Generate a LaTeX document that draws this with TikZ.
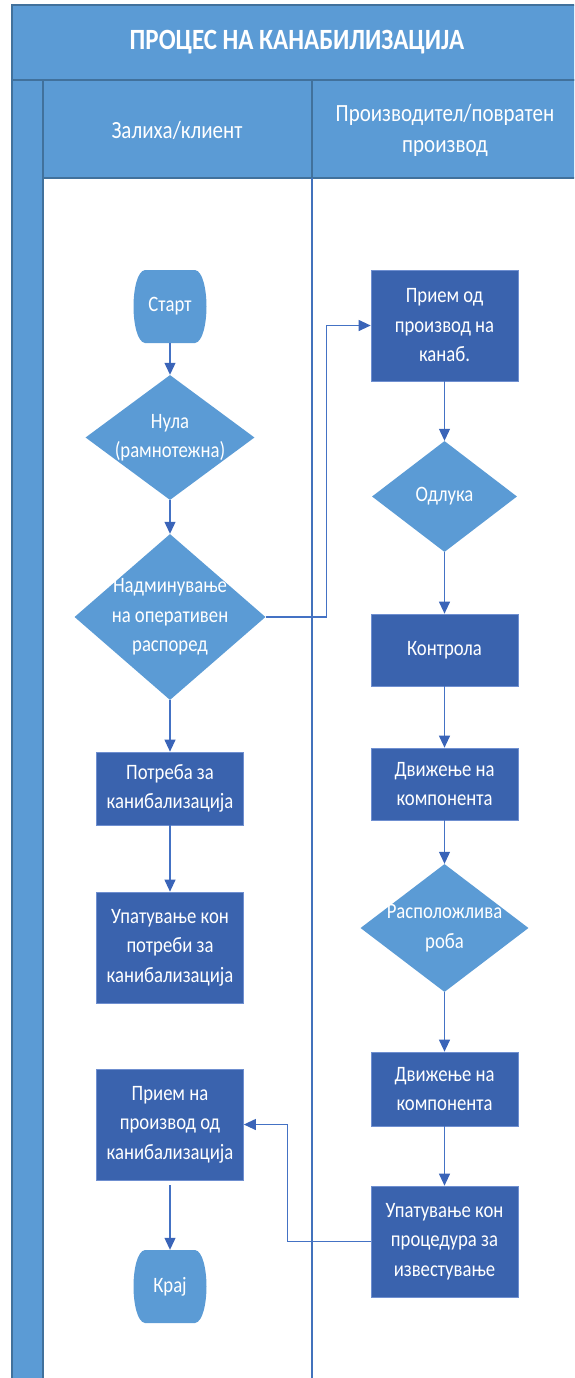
\documentclass[tikz,border=0pt]{standalone}
\usepackage{fontspec}
\setmainfont{Carlito}[FakeStretch=0.85]
\usetikzlibrary{shapes.geometric,arrows.meta,backgrounds}

\definecolor{lblue}{HTML}{5B9BD5}
\definecolor{dblue}{HTML}{3A63AE}
\definecolor{edgec}{HTML}{41719C}
\definecolor{conn}{HTML}{4472C4}
\definecolor{tipc}{HTML}{3A64B8}
\definecolor{boxline}{HTML}{6F8FD0}

\tikzset{
  lanecell/.style={fill=lblue, draw=edgec, line width=1.1pt},
  txt/.style={text=white, align=center, font=\fontsize{22}{29.5}\selectfont},
  box/.style={txt, rectangle, fill=dblue, draw=boxline, line width=0.7pt,
    minimum width=147pt, inner sep=0pt},
  dia/.style={diamond, fill=lblue, inner sep=0pt},
  term/.style={txt, minimum width=73pt, minimum height=73pt, inner sep=0pt},
  arr/.style={draw=conn, line width=1.1pt,
    -{Triangle[width=11pt,length=12pt,fill=tipc,color=tipc]}},
}

% flowchart terminator outline (flat top/bottom, bulging sides)
\newcommand\termfill[1]{%
  \fill[lblue, shift={(#1)}]
    (-25,-36.5) -- (25,-36.5)
    .. controls (33,-35.5) and (36.5,-16) .. (36.5,0)
    .. controls (36.5,16) and (33,35.5) .. (25,36.5)
    -- (-25,36.5)
    .. controls (-33,35.5) and (-36.5,16) .. (-36.5,0)
    .. controls (-36.5,-16) and (-33,-35.5) .. (-25,-36.5) -- cycle;}

\begin{document}
\begin{tikzpicture}[x=1pt, y=-1pt]
  \useasboundingbox (0,0) rectangle (574,1378);
  \clip (0,0) rectangle (574,1378);

  % pool header, side band and lane headers
  \draw[lanecell] (12,5) rectangle (590,80);
  \node[text=white, font=\bfseries\fontsize{29.4}{32}\selectfont] (title) at (297,42) {ПРОЦЕС НА КАНАБИЛИЗАЦИЈА};
  \draw[lanecell] (12,80) rectangle (43,1400);
  \draw[lanecell] (43,80) rectangle (312,178);
  \draw[lanecell] (312,80) rectangle (590,178);
  \node[txt, font=\fontsize{24.7}{31}\selectfont] (lane1) at (177,130) {Залиха/клиент};
  \node[txt, font=\fontsize{24.7}{31}\selectfont] (lane2) at (445,130) {Производител/повратен\\производ};
  \draw[draw=edgec, line width=1.1pt] (43,178) -- (43,1400);
  \draw[draw=conn!80!edgec, line width=1.1pt] (312,178) -- (312,1400);

  % left lane
  \node[term] (start) at (170,306.5) {Старт};
  \node[dia, minimum width=169pt, minimum height=125pt,
        label={[txt]center:{Нула\\(рамнотежна)}}] (zero) at (170,437.5) {};
  \node[dia, minimum width=191pt, minimum height=166pt,
        label={[txt]center:{Надминување\\на оперативен\\распоред}}] (exceed) at (170,617) {};
  \node[box, minimum height=73pt] (need) at (170,788.5) {Потреба за\\канибализација};
  \node[box, minimum height=111pt] (guide) at (170,947.5) {Упатување кон\\потреби за\\канибализација};
  \node[box, minimum height=111pt] (recvcan) at (170,1124.5) {Прием на\\производ од\\канибализација};
  \node[term] (end) at (170,1286.5) {Крај};

  % right lane
  \node[box, minimum height=111pt] (recv) at (444.5,325.5) {Прием од\\производ на\\канаб.};
  \node[dia, minimum width=145pt, minimum height=111pt,
        label={[txt]center:{Одлука}}] (decide) at (444.5,496.5) {};
  \node[box, minimum height=72pt] (ctrl) at (444.5,650) {Контрола};
  \node[box, minimum height=72pt] (move1) at (444.5,784) {Движење на\\компонента};
  \node[dia, minimum width=168pt, minimum height=128pt,
        label={[txt]center:{Расположлива\\роба}}] (avail) at (444.5,928) {};
  \node[box, minimum height=74pt] (move2) at (444.5,1089) {Движење на\\компонента};
  \node[box, minimum height=111pt] (report) at (444.5,1241.5) {Упатување кон\\процедура за\\известување};

  \begin{scope}[on background layer]
    \termfill{start}
    \termfill{end}
  \end{scope}

  % connectors
  \draw[arr] (start) -- (zero);
  \draw[arr] (zero) -- (exceed);
  \draw[arr] (exceed) -- (need);
  \draw[arr] (need) -- (guide);
  \draw[arr, shorten <=5pt] (recvcan) -- (end);
  \draw[arr] (exceed.east) -- ++(61,0) |- (recv.west);
  \draw[arr] (recv) -- (decide);
  \draw[arr] (decide) -- (ctrl);
  \draw[arr] (ctrl) -- (move1);
  \draw[arr] (move1) -- (avail);
  \draw[arr] (avail) -- (move2);
  \draw[arr] (move2) -- (report);
  \draw[arr] (report.west) -- ++(-83,0) |- (recvcan.east);
\end{tikzpicture}
\end{document}
